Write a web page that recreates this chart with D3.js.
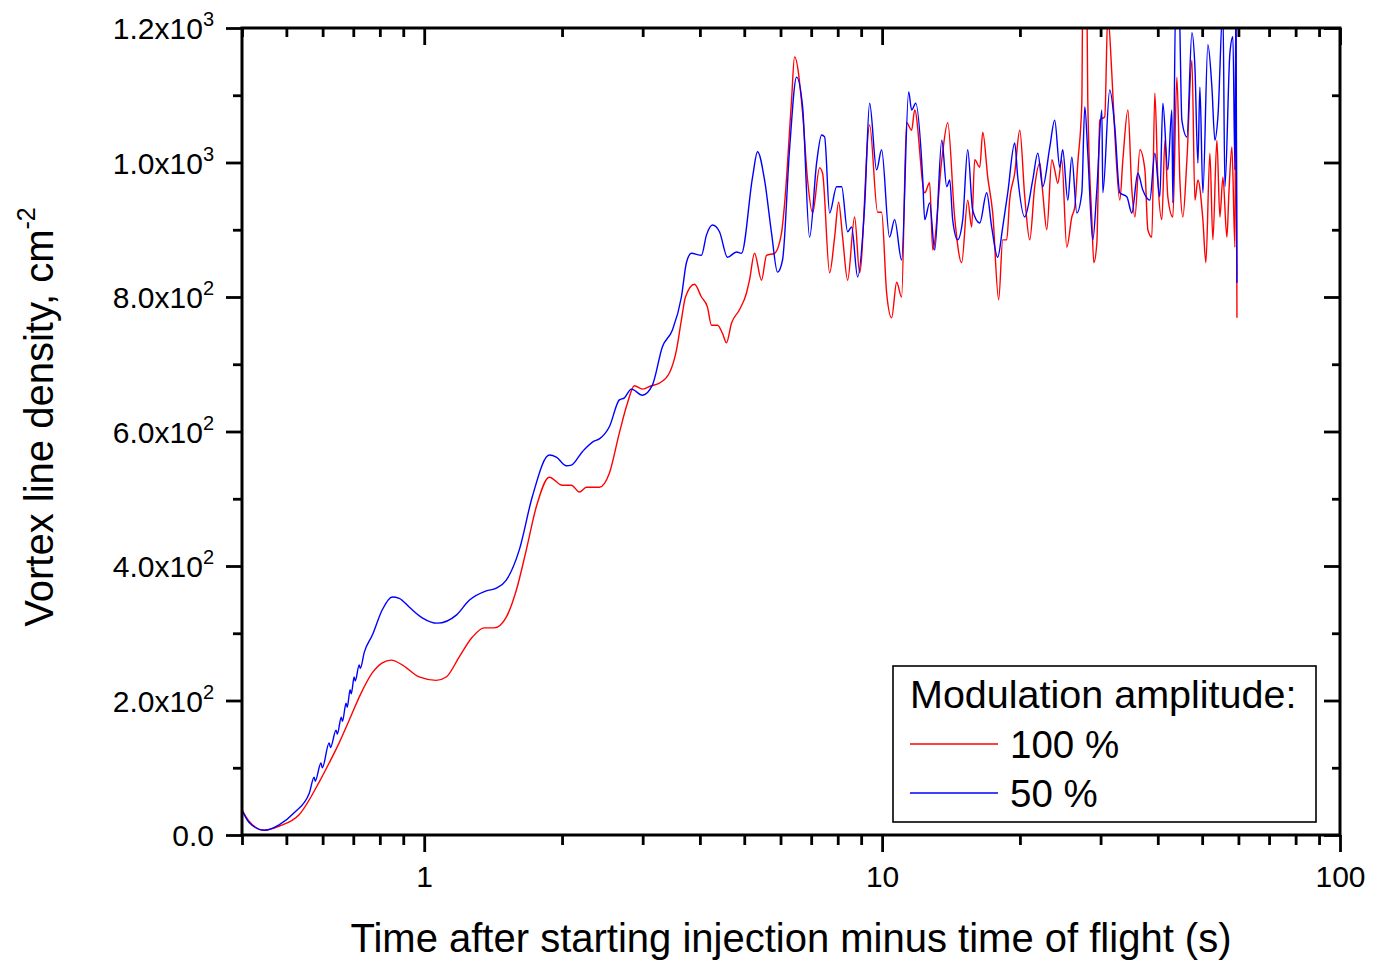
<!DOCTYPE html>
<html><head><meta charset="utf-8">
<script src="https://cdn.jsdelivr.net/npm/d3@7"></script>
<style>
body{margin:0;background:#fff}
svg{display:block}
text{font-family:"Liberation Sans",Arial,Helvetica,sans-serif;fill:#000}
</style>
</head><body>
<svg id="chart" width="1375" height="964"></svg>
<script>
// ---------- data ----------
const xMajorTicks = [1, 10, 100];
const xMajorLabels = ["1", "10", "100"];
const xMinorTicks = [0.4, 0.5, 0.6, 0.7, 0.8, 0.9, 2, 3, 4, 5, 6, 7, 8, 9, 20, 30, 40, 50, 60, 70, 80, 90];
const yMajorTicks = [0, 200, 400, 600, 800, 1000, 1200];
const yMajorMantissa = ["0.0", "2.0x10", "4.0x10", "6.0x10", "8.0x10", "1.0x10", "1.2x10"];
const yMajorExponent = ["", "2", "2", "2", "2", "3", "3"];
const yMinorTicks = [100, 300, 500, 700, 900, 1100];
const seriesNames = ["100 %", "50 %"];
const seriesColors = ["#ff0000", "#0000ff"];
const legendTitle = "Modulation amplitude:";
const xTitle = "Time after starting injection minus time of flight (s)";
const yTitleMain = "Vortex line density, cm";
const yTitleSup = "-2";

const timeRed = [0.398,0.414,0.447,0.482,0.533,0.590,0.620,0.652,0.686,0.728,0.770,0.810,0.847,0.895,0.975,1.062,1.117,1.193,1.273,1.352,1.422,1.511,1.589,1.671,1.757,1.876,2.003,2.096,2.182,2.261,2.413,2.537,2.668,2.778,2.877,2.996,3.134,3.263,3.431,3.555,3.645,3.720,3.893,4.031,4.155,4.240,4.370,4.481,4.572,4.688,4.881,5.056,5.133,5.265,5.453,5.592,5.821,6.029,6.121,6.342,6.438,6.704,6.874,7.050,7.302,7.413,7.680,7.876,8.035,8.198,8.408,8.709,8.931,9.391,9.777,9.975,10.23,10.49,10.76,11.03,11.31,11.60,11.78,12.39,12.70,12.90,13.50,13.91,14.40,14.92,15.38,15.69,15.93,16.34,16.59,17.01,17.44,17.97,18.34,18.71,18.99,19.48,19.98,20.49,21.01,21.54,22.10,22.43,22.89,23.48,23.82,24.19,24.68,25.31,25.96,26.35,26.75,27.30,27.43,27.99,28.13,28.71,29.00,29.44,29.88,30.64,31.11,31.74,32.22,33.04,33.56,34.42,35.11,35.65,36.56,37.49,38.05,38.82,39.41,40.02,40.83,41.46,42.07,43.15,44.03,44.70,45.38,46.31,47.49,48.21,48.94,50.18,50.94,51.98,52.77,53.84,54.66,55.50,56.62,57.20,58.07,58.96,59.26,59.56];
const densityRed = [40,21,7,13,30,79,107,137,171,211,241,256,260,253,235,230,235,265,294,308,308,324,364,424,488,532,520,520,510,517,517,538,598,642,668,663,668,672,687,721,766,800,819,800,785,758,758,746,732,761,781,806,825,865,825,862,865,895,937,1093,1157,1074,974,925,992,984,836,889,941,889,825,919,836,1056,926,926,806,769,822,800,1059,1048,1078,955,970,870,1004,1059,919,851,944,904,1004,993,1045,978,925,796,885,885,944,984,1048,949,885,964,999,955,900,1004,989,969,1004,874,919,934,999,1088,1250,1250,1093,915,851,880,1063,1068,1220,1133,1044,944,1004,1078,959,919,1019,989,900,889,1103,974,915,1033,949,919,1127,974,919,1004,1152,944,974,915,851,1014,885,1033,919,978,889,955,1023,874,1200,769];

const timeBlue = [0.398,0.414,0.447,0.482,0.520,0.561,0.575,0.578,0.595,0.599,0.620,0.624,0.642,0.646,0.659,0.663,0.675,0.679,0.689,0.693,0.703,0.707,0.721,0.725,0.740,0.770,0.810,0.851,0.882,0.927,0.990,1.068,1.175,1.254,1.366,1.437,1.511,1.613,1.722,1.876,1.943,2.044,2.096,2.215,2.353,2.413,2.537,2.668,2.736,2.834,2.996,3.150,3.313,3.484,3.645,3.738,3.833,4.031,4.134,4.262,4.414,4.596,4.808,4.931,5.212,5.345,5.537,5.735,5.910,6.061,6.278,6.505,6.704,6.944,7.193,7.377,7.489,7.680,7.956,8.159,8.408,8.578,8.841,9.157,9.391,9.727,9.975,10.38,10.65,11.03,11.43,11.60,11.84,12.26,12.39,12.70,13.03,13.50,13.84,14.05,14.26,14.62,15.00,15.38,15.77,16.34,16.92,17.35,17.88,18.34,18.81,19.48,19.78,20.49,21.33,21.88,22.43,23.24,23.82,24.43,24.80,25.44,25.96,26.62,27.30,27.71,28.13,28.85,29.44,30.19,30.34,31.42,32.22,33.04,34.23,35.11,36.18,37.10,38.43,39.41,40.42,41.03,42.07,42.93,43.15,43.80,44.47,45.15,46.31,47.49,48.21,48.94,49.43,50.18,51.46,52.51,53.31,54.12,55.50,56.06,57.49,58.36,58.96,59.26,59.56];
const densityBlue = [40,19,7,15,33,62,86,80,107,100,137,130,156,150,175,169,196,190,216,210,235,229,253,248,272,297,335,354,352,339,323,315,327,349,363,367,379,424,503,565,562,549,550,570,586,589,607,647,650,663,654,669,726,751,800,851,865,862,892,907,897,859,867,865,978,1016,974,895,837,855,1019,1127,1083,889,999,1041,1038,925,964,964,897,904,830,934,1088,989,1019,889,915,855,1105,1078,1088,978,915,940,870,1033,964,974,915,885,915,1019,929,910,955,904,859,904,955,1029,978,919,974,1014,964,1023,1063,993,1019,944,1008,925,955,1083,1014,885,959,1078,955,1108,1053,955,949,925,984,959,944,1014,949,1088,989,1078,940,1250,1250,1063,1038,1193,1142,999,1112,955,1175,1112,1033,1068,1230,964,1163,1187,989,1250,821];

// ---------- layout ----------
const L = 242, R = 1340, T = 28, B = 835;
const svg = d3.select("#chart");
const x = d3.scaleLog().domain([0.4, 100]).range([L, R]);
const y = d3.scaleLinear().domain([0, 1200]).range([B, T]);

svg.append("defs").append("clipPath").attr("id", "plotclip")
  .append("rect").attr("x", L).attr("y", T).attr("width", R - L).attr("height", B - T);

// data lines
const line = d3.line().x(d => x(d[0])).y(d => y(d[1])).curve(d3.curveMonotoneX);
const series = [
  d3.zip(timeRed, densityRed),
  d3.zip(timeBlue, densityBlue)
];
const gLines = svg.append("g").attr("clip-path", "url(#plotclip)");
series.forEach((s, i) => {
  gLines.append("path").datum(s)
    .attr("d", line)
    .attr("fill", "none")
    .attr("stroke", seriesColors[i])
    .attr("stroke-width", 1.4)
    .attr("stroke-linejoin", "round");
});

// axes
const tickW = 2.8;
function styleAxis(g) {
  g.select(".domain").remove();
  g.selectAll(".tick line").attr("stroke", "#000").attr("stroke-width", tickW);
}
// bottom major
svg.append("g").attr("transform", `translate(0,${B})`)
  .call(d3.axisBottom(x).tickValues(xMajorTicks).tickSize(17).tickPadding(14)
    .tickFormat((d, i) => xMajorLabels[i]))
  .call(styleAxis)
  .call(g => g.selectAll("text").attr("font-size", 30).attr("font-family", "Liberation Sans, Arial, sans-serif").attr("fill", "#000"));
// bottom minor
svg.append("g").attr("transform", `translate(0,${B})`)
  .call(d3.axisBottom(x).tickValues(xMinorTicks).tickSize(10).tickFormat(""))
  .call(styleAxis);
// top major/minor (inward)
svg.append("g").attr("transform", `translate(0,${T})`)
  .call(d3.axisTop(x).tickValues(xMajorTicks).tickSize(-17).tickFormat(""))
  .call(styleAxis);
svg.append("g").attr("transform", `translate(0,${T})`)
  .call(d3.axisTop(x).tickValues(xMinorTicks).tickSize(-9).tickFormat(""))
  .call(styleAxis);
// left major
const leftAxis = svg.append("g").attr("transform", `translate(${L},0)`)
  .call(d3.axisLeft(y).tickValues(yMajorTicks).tickSize(16).tickPadding(12).tickFormat(""))
  .call(styleAxis);
leftAxis.selectAll(".tick").each(function(d, i) {
  const t = d3.select(this).select("text")
    .attr("font-size", 30).attr("fill", "#000").attr("font-family", "Liberation Sans, Arial, sans-serif")
    .attr("dy", "0.35em").text(null);
  t.append("tspan").text(yMajorMantissa[i]);
  if (yMajorExponent[i]) {
    t.append("tspan").attr("font-size", 20).attr("dy", -13).text(yMajorExponent[i]);
  }
});
// left minor
svg.append("g").attr("transform", `translate(${L},0)`)
  .call(d3.axisLeft(y).tickValues(yMinorTicks).tickSize(9).tickFormat(""))
  .call(styleAxis);
// right (inward)
svg.append("g").attr("transform", `translate(${R},0)`)
  .call(d3.axisRight(y).tickValues(yMajorTicks).tickSize(-16).tickFormat(""))
  .call(styleAxis);
svg.append("g").attr("transform", `translate(${R},0)`)
  .call(d3.axisRight(y).tickValues(yMinorTicks).tickSize(-8).tickFormat(""))
  .call(styleAxis);

// frame
svg.append("rect").attr("x", L).attr("y", T).attr("width", R - L).attr("height", B - T)
  .attr("fill", "none").attr("stroke", "#000").attr("stroke-width", 3);

// axis titles
svg.append("text").attr("x", (L + R) / 2).attr("y", 952).attr("text-anchor", "middle")
  .attr("font-size", 40).text(xTitle);
const yt = svg.append("text").attr("transform", "translate(53,417) rotate(-90)")
  .attr("text-anchor", "middle").attr("font-size", 40);
yt.append("tspan").text(yTitleMain);
yt.append("tspan").attr("font-size", 25).attr("dy", -18).text(yTitleSup);

// legend
const lg = svg.append("g");
lg.append("rect").attr("x", 893).attr("y", 666).attr("width", 423).attr("height", 156)
  .attr("fill", "#fff").attr("stroke", "#000").attr("stroke-width", 1.6);
lg.append("text").attr("x", 910).attr("y", 708).attr("font-size", 39.5).text(legendTitle);
const legY = [744, 793];
seriesNames.forEach((name, i) => {
  lg.append("line").attr("x1", 910).attr("x2", 998).attr("y1", legY[i]).attr("y2", legY[i])
    .attr("stroke", seriesColors[i]).attr("stroke-width", 1.4);
  lg.append("text").attr("x", 1010).attr("y", legY[i] + 14).attr("font-size", 38.5).text(name);
});
</script>
</body></html>
